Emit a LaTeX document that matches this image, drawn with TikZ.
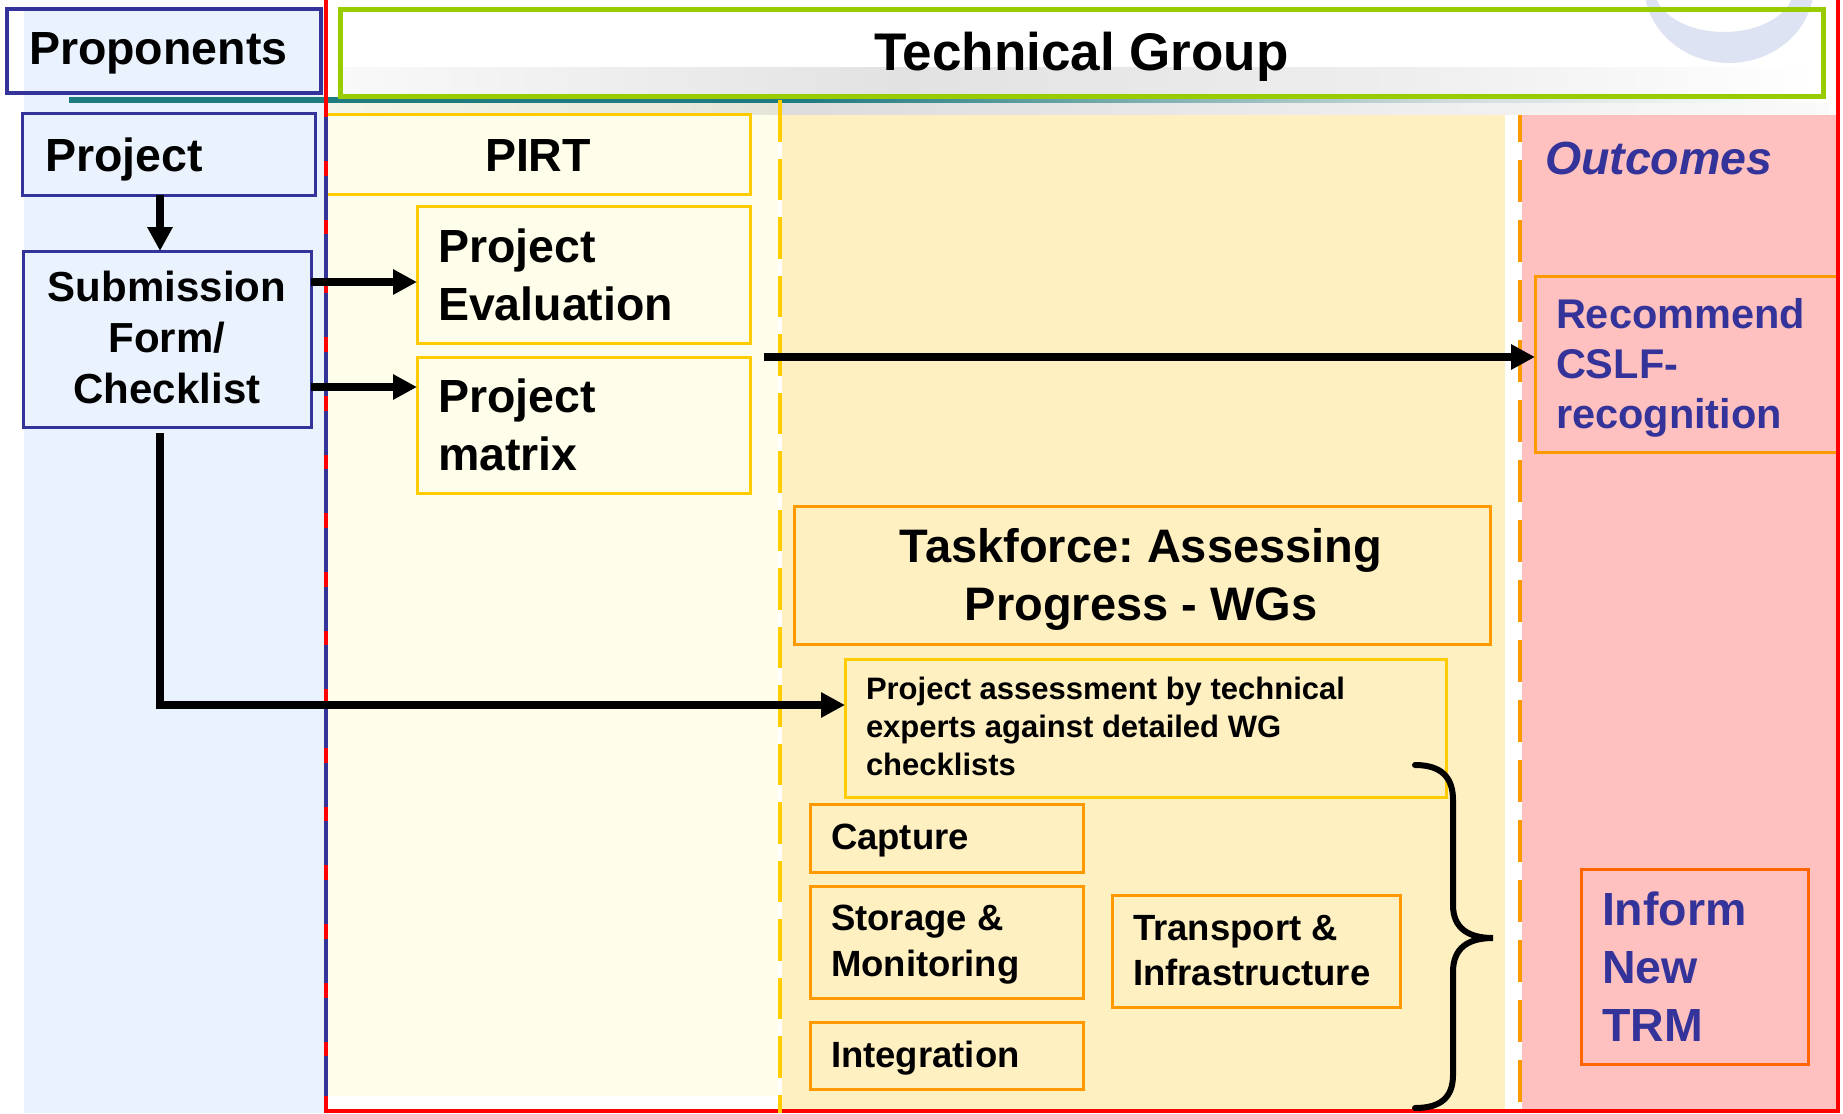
\documentclass[tikz,border=0pt]{standalone}
\usepackage{fontspec}
\setmainfont{Liberation Sans}
\usetikzlibrary{arrows.meta}
\definecolor{bluefill}{RGB}{234,242,254}
\definecolor{navy}{RGB}{51,51,153}
\definecolor{creamA}{RGB}{255,254,234}
\definecolor{creamB}{RGB}{255,240,194}
\definecolor{pinkfill}{RGB}{255,192,192}
\definecolor{yel}{RGB}{255,204,0}
\definecolor{orng}{RGB}{255,153,0}
\definecolor{orred}{RGB}{255,102,0}
\definecolor{grn}{RGB}{153,204,0}
\definecolor{tealc}{RGB}{30,123,128}
\definecolor{redl}{RGB}{255,0,0}
\definecolor{wmark}{RGB}{222,227,244}
\newcommand\fsz[2]{\fontsize{#1}{#2}\selectfont}
\newcommand\cln[1]{\hbox to 0pt{\hss #1\hss}}
\frenchspacing
\begin{document}
\begin{tikzpicture}[x=1pt,y=-1pt,
  box/.style={draw, line width=3pt, inner sep=0pt, outer sep=0pt, anchor=north west},
  txt/.style={inner sep=0pt, outer sep=0pt},
  arr/.style={line width=7.5pt, -{Triangle[length=24pt,width=24pt]}},
  vdash/.style={line width=4pt}
]
\useasboundingbox (0,0) rectangle (1843,1113);
\fill[white] (0,0) rectangle (1843,1113);
% column fills
\fill[bluefill] (24,9) rectangle (325,1113);
\fill[creamA] (326,103) rectangle (778,1096);
\fill[creamB] (782,115) rectangle (1505,1111);
\fill[pinkfill] (1522,115) rectangle (1836,1111);
% gray band under title
\shade[left color={rgb,255:red,246;green,246;blue,230}, right color={rgb,255:red,228;green,228;blue,216}] (326,103) rectangle (780,115);
\shade[left color={rgb,255:red,220;green,220;blue,220}, right color={rgb,255:red,235;green,235;blue,235}] (780,103) rectangle (1300,115);
\shade[left color={rgb,255:red,235;green,235;blue,235}, right color={rgb,255:red,250;green,250;blue,250}] (1300,103) rectangle (1830,115);
% teal line
\fill[tealc] (69,97) rectangle (800,103);
\shade[left color=tealc, right color={rgb,255:red,208;green,220;blue,220}] (800,97) rectangle (1450,103);
\shade[left color={rgb,255:red,208;green,220;blue,220}, right color=white] (1450,97) rectangle (1830,103);
% Technical group box
\fill[white] (340,9) rectangle (1823,96);
\shade[left color={rgb,255:red,249;green,249;blue,249}, right color={rgb,255:red,226;green,226;blue,226}] (342,68) rectangle (900,95);
\shade[left color={rgb,255:red,226;green,226;blue,226}, right color={rgb,255:red,238;green,238;blue,238}] (900,68) rectangle (1400,95);
\shade[left color={rgb,255:red,238;green,238;blue,238}, right color=white] (1400,68) rectangle (1821,95);
\begin{scope}
  \clip (0,0) rectangle (1836,97);
  \fill[wmark, even odd rule] (1729,-15) ellipse [x radius=85pt, y radius=78pt]
        (1724,-12) ellipse [x radius=70pt, y radius=44pt];
\end{scope}
\node[box, draw=grn, line width=5pt, minimum width=1483pt, minimum height=87pt] (tgbox) at (340,9.5) {};
\node[txt, anchor=base, font=\bfseries\fsz{53}{60}] (tgtext) at (1081.5,71) {Technical Group};
% Proponents
\node[box, draw=navy, line width=4pt, minimum width=314pt, minimum height=84pt] (prop) at (7,9) {};
\node[txt, anchor=base west, font=\bfseries\fsz{46.5}{56}] (proptext) at (29,65) {Proponents};
% left boxes
\node[box, draw=navy, fill=bluefill, minimum width=293pt, minimum height=81pt] (project) at (22,114) {};
\node[txt, anchor=base west, font=\bfseries\fsz{46.5}{56}] (projecttext) at (45,171) {Project};
\node[box, draw=navy, fill=bluefill, minimum width=288pt, minimum height=176pt] (submit) at (23,251) {};
\node[txt, anchor=base, font=\bfseries\fsz{42}{51}] (submittext) at (167,301) {\vtop{\cln{Submission}\cln{Form/}\cln{Checklist}}};
% PIRT
\node[box, draw=yel, fill=creamA, minimum width=424pt, minimum height=79pt] (pirt) at (326,115) {};
\node[txt, anchor=base, font=\bfseries\fsz{46.5}{56}] (pirttext) at (538,171) {PIRT};
\node[box, draw=yel, fill=creamA, minimum width=333pt, minimum height=137pt] (eval) at (417,206) {};
\node[txt, anchor=base west, font=\bfseries\fsz{46.5}{58}] (evaltext) at (438,262) {\vtop{\hbox{Project}\hbox{Evaluation}}};
\node[box, draw=yel, fill=creamA, minimum width=333pt, minimum height=136pt] (matrix) at (417,357) {};
\node[txt, anchor=base west, font=\bfseries\fsz{46.5}{58}] (matrixtext) at (438,412) {\vtop{\hbox{Project}\hbox{matrix}}};
% middle column
\node[box, draw=orng, fill=creamB, minimum width=696pt, minimum height=138pt] (task) at (794,506) {};
\node[txt, anchor=base, font=\bfseries\fsz{47}{58}] (tasktext) at (1141,562) {\vtop{\cln{Taskforce: Assessing}\cln{Progress - WGs}}};
\node[box, draw=yel, fill=creamB, minimum width=601pt, minimum height=138pt] (assess) at (845,659) {};
\node[txt, anchor=base west, font=\bfseries\fsz{31}{38}] (assesstext) at (866,699) {\vtop{\hbox{Project assessment by technical}\hbox{experts against detailed WG}\hbox{checklists}}};
\node[box, draw=orng, fill=creamB, minimum width=273pt, minimum height=68pt] (capture) at (810,804) {};
\node[txt, anchor=base west, font=\bfseries\fsz{36.5}{45}] (capturetext) at (831,849) {Capture};
\node[box, draw=orng, fill=creamB, minimum width=273pt, minimum height=112pt] (storage) at (810,886) {};
\node[txt, anchor=base west, font=\bfseries\fsz{36.5}{46}] (storagetext) at (831,930) {\vtop{\hbox{Storage \&}\hbox{Monitoring}}};
\node[box, draw=orng, fill=creamB, minimum width=273pt, minimum height=67pt] (integ) at (810,1022) {};
\node[txt, anchor=base west, font=\bfseries\fsz{36.5}{45}] (integtext) at (831,1067) {Integration};
\node[box, draw=orng, fill=creamB, minimum width=288pt, minimum height=112pt] (transport) at (1112,895) {};
\node[txt, anchor=base west, font=\bfseries\fsz{36.5}{45}] (transporttext) at (1133,940) {\vtop{\hbox{Transport \&}\hbox{Infrastructure}}};
% outcomes column
\node[txt, anchor=base west, text=navy, font=\bfseries\itshape\fsz{46.5}{56}] (outtext) at (1545,174) {Outcomes};
\node[box, draw=orng, fill=pinkfill, minimum width=302pt, minimum height=176pt] (recommend) at (1535,276) {};
\node[txt, anchor=base west, text=navy, font=\bfseries\fsz{41.5}{50}] (rectext) at (1556,328) {\vtop{\hbox{Recommend}\hbox{CSLF-}\hbox{recognition}}};
\node[box, draw=orred, fill=pinkfill, minimum width=227pt, minimum height=195pt] (inform) at (1581,869) {};
\node[txt, anchor=base west, text=navy, font=\bfseries\fsz{46.5}{58}] (informtext) at (1602,925) {\vtop{\hbox{Inform}\hbox{New}\hbox{TRM}}};
% frame
\draw[redl, line width=4.5pt] (326,-5) -- (326,1111) -- (1838,1111) -- (1838,-5);
\draw[navy, line width=4.5pt, dash pattern=on 44pt off 14.7pt] (326,117) -- (326,1096);
% dashed column separators
\draw[yel, vdash, dash pattern=on 41.7pt off 16.8pt] (779.5,100) -- (779.5,1113);
\draw[orng, vdash, dash pattern=on 42pt off 18pt, dash phase=15pt] (1520,115) -- (1520,1111);
% connectors
\coordinate (sx) at (160,0);
\coordinate (ya) at (0,282);
\coordinate (yb) at (0,387);
\coordinate (ye) at (0,705);
\coordinate (lstart) at (764,357);
\draw[arr] (project.south -| sx) -- (submit.north -| sx);
\draw[arr] (submit.east |- ya) -- (eval.west |- ya);
\draw[arr] (submit.east |- yb) -- (matrix.west |- yb);
\draw[arr] (lstart) -- (recommend.west |- lstart);
\draw[arr] ([yshift=-6pt]submit.south -| sx) |- (assess.west |- ye);
% brace
\draw[line width=6pt, line cap=round] (1415,765) .. controls (1442,765) and (1453,778) .. (1453,800)
  -- (1453,905) .. controls (1453,928) and (1468,938) .. (1493,938)
  .. controls (1468,938) and (1453,948) .. (1453,972)
  -- (1453,1075) .. controls (1453,1098) and (1440,1108) .. (1415,1108);
\end{tikzpicture}
\end{document}
